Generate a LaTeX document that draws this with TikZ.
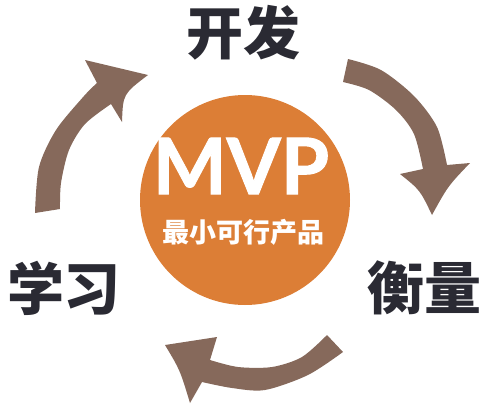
\documentclass[tikz,border=0pt]{standalone}
\usepackage{fontspec}
\newfontfamily\cjk{Noto Sans CJK SC}
\newfontfamily\latin{Lato}[BoldFeatures={FakeBold=1.2}]
\definecolor{cyclebrown}{HTML}{86695B}
\definecolor{mvporange}{HTML}{DC7E36}
\definecolor{labelgray}{HTML}{2A2A33}
\usetikzlibrary{positioning}
\begin{document}
\begin{tikzpicture}[x=1pt, y=-1pt,
        main/.style = {circle, fill=mvporange, minimum size=210pt, inner sep=0pt},
        stage/.style = {text=labelgray, font=\cjk\bfseries\fontsize{57pt}{60pt}\selectfont},
        cycle/.style = {fill=cyclebrown}]
        \useasboundingbox (0,0) rectangle (488,408);

        \node[main] (mvp) at (245,200) {};
        \node[text=white, font=\latin\bfseries\fontsize{78pt}{80pt}\selectfont] (title) at (241,166) {MVP};
        \node[text=white, font=\cjk\bfseries\fontsize{27pt}{28pt}\selectfont] (subtitle) at (243,232) {最小可行产品};

        % Etapes
        \node[stage] (dev) at (243,33) {开发};
        \node[stage] (measure) at (424,288) {衡量};
        \node[stage] (learn) at (64,288) {学习};

        % Fleche vers 开发
        \fill[cycle] plot[smooth] coordinates {(35,213) (39,167) (56,130) (84,96) (97,83)}
            -- (85,60) -- (148,75) .. controls (123,94) .. (122,122) -- (111,104)
            -- plot[smooth] coordinates {(111,104) (85,124) (69,150) (61,183) (60,209)} -- cycle;
        % Fleche vers 衡量
        \fill[cycle] plot[smooth] coordinates {(348,59) (381,70) (414,96) (437,127) (447,165)}
            -- (470,163) .. controls (448,186) .. (432,215) .. controls (420,190) .. (400,174) -- (423,169)
            -- plot[smooth] coordinates {(423,169) (414,134) (396,110) (369,90) (343,82)} -- cycle;
        % Fleche vers 学习
        \fill[cycle] plot[smooth] coordinates {(343,352) (308,375) (265,390) (232,388) (202,382)}
            -- (190,403) .. controls (180,370) .. (165,345) -- (217,337) -- (210,360)
            -- plot[smooth] coordinates {(210,360) (238,367) (272,367) (302,357) (327,335)} -- cycle;
    \end{tikzpicture}
\end{document}
